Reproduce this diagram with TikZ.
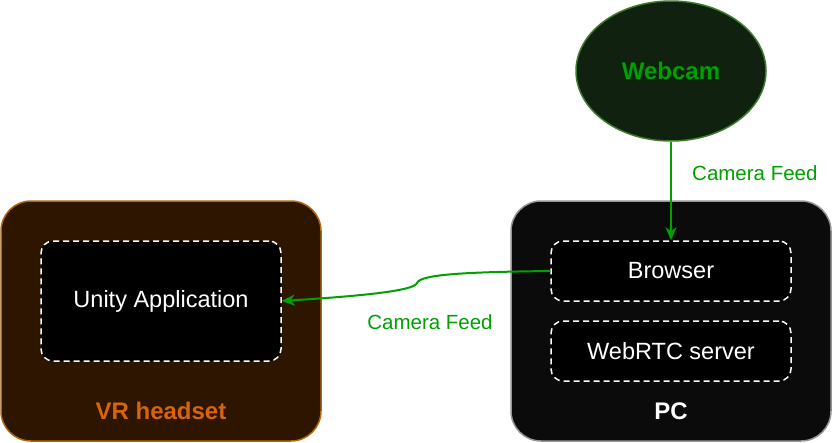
\documentclass[tikz,border=0pt]{standalone}
\usepackage{fontspec}
\setmainfont{Liberation Sans}
\usetikzlibrary{arrows.meta,shapes.geometric}
\definecolor{hsfill}{RGB}{45,21,0}
\definecolor{hsline}{RGB}{180,104,10}
\definecolor{hstext}{RGB}{214,100,8}
\definecolor{pcfill}{RGB}{11,11,11}
\definecolor{pcline}{RGB}{150,150,150}
\definecolor{camfill}{RGB}{16,33,15}
\definecolor{camline}{RGB}{62,122,46}
\definecolor{feed}{RGB}{0,160,0}
\tikzset{
	device/.style={draw, line width=1.5pt, rounded corners=30pt, minimum width=320pt, minimum height=240pt, inner sep=0pt},
	app/.style={draw=white, fill=black, dash pattern=on 6pt off 4pt, line width=1.5pt, rounded corners=12pt, minimum width=240pt, inner sep=0pt, text=white, font=\fontsize{23.5}{26}\selectfont},
	feedline/.style={draw=feed, line width=2pt, -{Stealth[length=13pt,width=11pt,inset=4pt]}},
	feedlabel/.style={text=feed, font=\fontsize{20.5}{24}\selectfont},
	title/.style={font=\bfseries\fontsize{24}{26}\selectfont}
}
\begin{document}
\begin{tikzpicture}[x=1pt,y=-1pt]
	\useasboundingbox (0,0) rectangle (832,442);
	% devices
	\node[device, draw=hsline, fill=hsfill] (headset) at (161,321) {};
	\node[device, draw=pcline, fill=pcfill] (pc) at (671,321) {};
	\node[title, text=hstext] (hslabel) at (161,411) {VR headset};
	\node[title, text=white] (pclabel) at (671,411) {PC};

	% software
	\node[app, minimum height=120pt] (unity) at (161,301) {Unity Application};
	\node[app, minimum height=60pt] (browser) at (671,271) {Browser};
	\node[app, minimum height=60pt] (webrtc) at (671,351) {WebRTC server};

	% camera
	\node[ellipse, draw=camline, fill=camfill, line width=1.5pt, minimum width=190pt, minimum height=140pt, inner sep=0pt, title, text=feed] (webcam) at (671,71) {Webcam};

	\draw[feedline] (webcam) -- (browser);
	\node[feedlabel, anchor=west, inner sep=0pt] (toplabel) at (692,173) {Camera Feed};
	\draw[feedline] (browser.west) .. controls (470,272) and (420,274) .. (417,283) .. controls (414,291) and (360,296) .. (unity.east);
	\node[feedlabel] (leftlabel) at (430,322) {Camera Feed};
\end{tikzpicture}
\end{document}
